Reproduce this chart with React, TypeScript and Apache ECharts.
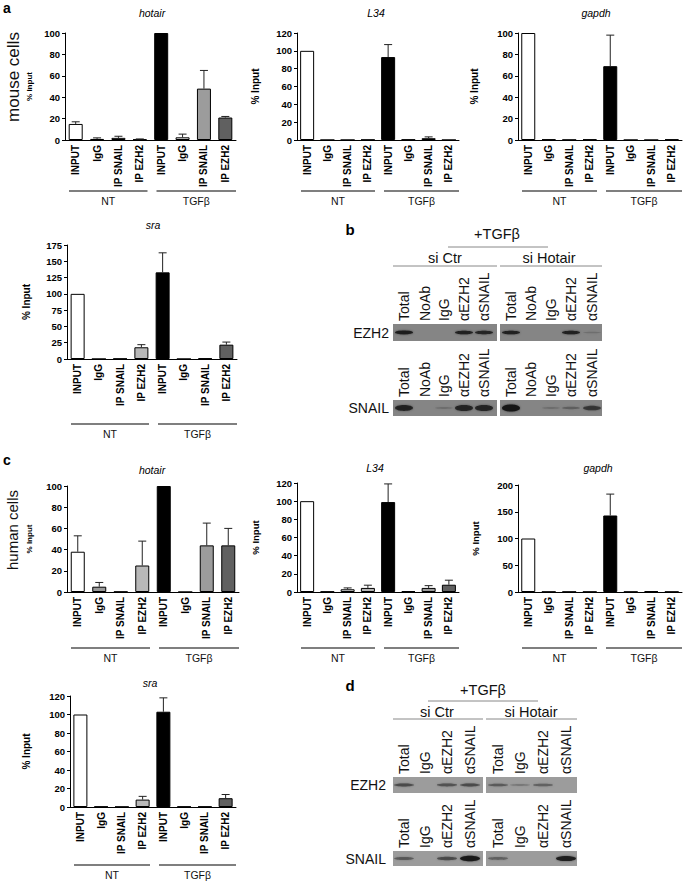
import React, { useEffect, useRef } from 'react';
import * as echarts from 'echarts';

const FONT = '"Liberation Sans", Arial, Helvetica, sans-serif';

const CATEGORIES = ['INPUT', 'IgG', 'IP SNAIL', 'IP EZH2', 'INPUT', 'IgG', 'IP SNAIL', 'IP EZH2'];
const GROUPS = ['NT', 'TGFβ'];
const FILLS = ['#ffffff', '#9a9a9a', '#e4e4e4', '#b8b8b8', '#000000', '#f2f2f2', '#9c9c9c', '#606060'];

// mouse cells (panel a)
const mouseHotair = [15, 1, 2, 0.5, 100, 2.5, 48, 21];
const mouseHotairErr = [2, 1, 1.5, 0.5, 0, 3, 17, 1];
const mouseL34 = [100, 0, 0, 0.3, 93, 0.5, 2, 0];
const mouseL34Err = [0, 0, 0, 0, 14, 0, 1.5, 0];
const mouseGapdh = [100, 0.5, 0.2, 0.5, 69, 0, 0, 0.5];
const mouseGapdhErr = [0, 0, 0, 0, 29, 0, 0, 0];
const mouseSra = [100, 0, 0.5, 18, 133, 0, 1, 22];
const mouseSraErr = [0, 0, 0, 4, 30, 0, 0, 4];

// human cells (panel c)
const humanHotair = [38, 5, 0.3, 25, 100, 0, 44, 44];
const humanHotairErr = [15, 4, 0, 23, 0, 0, 21, 16];
const humanL34 = [100, 0.5, 3, 4.5, 99, 1, 4.5, 8];
const humanL34Err = [0, 0, 1.5, 3, 20, 0, 2.5, 5];
const humanGapdh = [100, 0.5, 0.5, 0.5, 143, 0.5, 1.5, 0.5];
const humanGapdhErr = [0, 0, 0, 0, 40, 0, 0, 0];
const humanSra = [100, 0.5, 0.3, 8, 103, 0.5, 0.5, 9.5];
const humanSraErr = [0, 0, 0, 3.5, 15, 0, 0, 4];

// western blots (band intensity per lane, 0..1)
const blotBLanes = ['Total', 'NoAb', 'IgG', 'αEZH2', 'αSNAIL'];
const blotB_EZH2_siCtr = [0.9, 0, 0, 0.85, 0.8];
const blotB_EZH2_siHotair = [0.85, 0, 0, 0.85, 0.05];
const blotB_SNAIL_siCtr = [0.75, 0, 0.05, 0.8, 0.8];
const blotB_SNAIL_siHotair = [1, 0, 0.05, 0.15, 0.55];

const blotDLanes = ['Total', 'IgG', 'αEZH2', 'αSNAIL'];
const blotD_EZH2_siCtr = [0.45, 0, 0.4, 0.45];
const blotD_EZH2_siHotair = [0.35, 0.1, 0.3, 0];
const blotD_SNAIL_siCtr = [0.35, 0, 0.45, 0.95];
const blotD_SNAIL_siHotair = [0.3, 0, 0, 0.9];

const PANELS = [
  { title: 'hotair', values: mouseHotair, errors: mouseHotairErr, max: 100, interval: 20, left: 65, top: 33, width: 171, height: 107, nameGap: 32, nameSize: 8, titleX: 152, titleY: 13, lineY: 191 },
  { title: 'L34', values: mouseL34, errors: mouseL34Err, max: 120, interval: 20, left: 297, top: 33, width: 162, height: 107, nameGap: 37, nameSize: 10, titleX: 376, titleY: 13, lineY: 191 },
  { title: 'gapdh', values: mouseGapdh, errors: mouseGapdhErr, max: 100, interval: 20, left: 518, top: 33, width: 164, height: 107, nameGap: 39, nameSize: 10, titleX: 596, titleY: 13, lineY: 191 },
  { title: 'sra', values: mouseSra, errors: mouseSraErr, max: 175, interval: 25, left: 67, top: 245, width: 170, height: 114, nameGap: 36, nameSize: 10, titleX: 153, titleY: 225, lineY: 424 },
  { title: 'hotair', values: humanHotair, errors: humanHotairErr, max: 100, interval: 20, left: 67, top: 486, width: 172, height: 106, nameGap: 34, nameSize: 8, titleX: 152, titleY: 470, lineY: 648 },
  { title: 'L34', values: humanL34, errors: humanL34Err, max: 120, interval: 20, left: 297, top: 483, width: 162, height: 109, nameGap: 37, nameSize: 9.5, titleX: 375, titleY: 468, lineY: 648 },
  { title: 'gapdh', values: humanGapdh, errors: humanGapdhErr, max: 200, interval: 50, left: 518, top: 485, width: 164, height: 107, nameGap: 38, nameSize: 9.5, titleX: 598, titleY: 468, lineY: 648 },
  { title: 'sra', values: humanSra, errors: humanSraErr, max: 120, interval: 20, left: 70, top: 696, width: 166, height: 111, nameGap: 39, nameSize: 10, titleX: 150, titleY: 683, lineY: 865 },
];

function text(x: number, y: number, t: string, o: any = {}) {
  return {
    type: 'text', x, y, rotation: o.rotation || 0, z: 10,
    style: {
      text: t, fill: o.fill || '#111', font: o.font || `12px ${FONT}`,
      align: o.align || 'center', verticalAlign: o.verticalAlign || 'middle',
    },
  };
}
function line(x1: number, y1: number, x2: number, y2: number, stroke = '#555', lineWidth = 1.4) {
  return { type: 'line', z: 10, shape: { x1, y1, x2, y2 }, style: { stroke, lineWidth } };
}

function blotStrip(x0: number, x1: number, y: number, h: number, laneCenters: number[], intens: number[], bg: string, bandW: number, thick: number) {
  const els: any[] = [{ type: 'rect', z: 5, shape: { x: x0, y, width: x1 - x0, height: h }, style: { fill: bg } }];
  intens.forEach((v, i) => {
    if (v <= 0) return;
    els.push({
      type: 'ellipse', z: 6,
      shape: { cx: laneCenters[i], cy: y + h / 2, rx: bandW / 2, ry: 0.8 + v * thick },
      style: { fill: '#151515', opacity: Math.min(1, 0.1 + v * 0.9), shadowBlur: 2, shadowColor: 'rgba(0,0,0,0.5)' },
    });
  });
  return els;
}

function buildBlot(cfg: any) {
  const els: any[] = [];
  const laneFont = `14px ${FONT}`;
  els.push(text(cfg.letterX, cfg.letterY, cfg.letter, { font: `bold 15px ${FONT}`, fill: '#000' }));
  els.push(text(cfg.tgfX, cfg.tgfY, '+TGFβ', { font: `14.5px ${FONT}` }));
  els.push(line(cfg.tgfLine[0], cfg.tgfLine[2], cfg.tgfLine[1], cfg.tgfLine[2], '#888', 1));
  els.push(text(cfg.ctrX, cfg.subY, 'si Ctr', { font: `14.5px ${FONT}` }));
  els.push(text(cfg.hotX, cfg.subY, 'si Hotair', { font: `14.5px ${FONT}` }));
  els.push(line(cfg.L[0], cfg.subLineY, cfg.L[1], cfg.subLineY, '#888', 1));
  els.push(line(cfg.R[0], cfg.subLineY, cfg.R[1], cfg.subLineY, '#888', 1));
  const rows = [
    { name: 'EZH2', y: cfg.ezhY, h: cfg.ezhH, lab: cfg.ezhLabY, L: cfg.ezhL, R: cfg.ezhR, thick: cfg.ezhThick },
    { name: 'SNAIL', y: cfg.snY, h: cfg.snH, lab: cfg.snLabY, L: cfg.snL, R: cfg.snR, thick: cfg.snThick },
  ];
  rows.forEach((r) => {
    els.push(text(cfg.rowLabX, r.y + r.h / 2, r.name, { font: `14px ${FONT}`, align: 'right' }));
    cfg.lanes.forEach((ln: string, i: number) => {
      els.push(text(cfg.lcL[i], r.lab, ln, { font: laneFont, align: 'left', rotation: Math.PI / 2 }));
      els.push(text(cfg.lcR[i], r.lab, ln, { font: laneFont, align: 'left', rotation: Math.PI / 2 }));
    });
    els.push(...blotStrip(cfg.L[0], cfg.L[1], r.y, r.h, cfg.lcL, r.L, cfg.bg, cfg.bandW, r.thick));
    els.push(...blotStrip(cfg.R[0], cfg.R[1], r.y, r.h, cfg.lcR, r.R, cfg.bg, cfg.bandW, r.thick));
  });
  return els;
}

export default function App() {
  const ref = useRef<HTMLDivElement>(null);
  useEffect(() => {
    if (!ref.current) return;
    const chart = echarts.init(ref.current, undefined, { renderer: 'svg' });

    const grid: any[] = [];
    const xAxis: any[] = [];
    const yAxis: any[] = [];
    const series: any[] = [];
    const graphic: any[] = [];

    PANELS.forEach((p, i) => {
      grid.push({ left: p.left, top: p.top, width: p.width, height: p.height, containLabel: false });
      xAxis.push({
        type: 'category', gridIndex: i, data: CATEGORIES,
        axisLine: { show: true, lineStyle: { color: '#000', width: 1 } },
        axisTick: { show: false },
        axisLabel: { rotate: 90, interval: 0, fontWeight: 'bold', fontSize: 10, color: '#000', margin: 5, fontFamily: FONT },
      });
      yAxis.push({
        type: 'value', gridIndex: i, min: 0, max: p.max, interval: p.interval,
        name: '% Input', nameLocation: 'middle', nameRotate: 90, nameGap: p.nameGap,
        nameTextStyle: { fontWeight: 'bold', fontSize: p.nameSize, color: '#000', fontFamily: FONT },
        axisLine: { show: true, lineStyle: { color: '#000', width: 1 } },
        axisTick: { show: true, length: 3, lineStyle: { color: '#000' } },
        splitLine: { show: false },
        axisLabel: { fontWeight: 'bold', fontSize: 9.5, color: '#000', margin: 5, fontFamily: FONT },
      });
      series.push({
        type: 'bar', xAxisIndex: i, yAxisIndex: i, barWidth: 14,
        data: p.values.map((v, k) => ({ value: v, itemStyle: { color: FILLS[k], borderColor: '#000', borderWidth: 1 } })),
      });
      series.push({
        type: 'custom', xAxisIndex: i, yAxisIndex: i, z: 5,
        data: p.values.map((v, k) => [k, v, p.errors[k]]).filter((d) => d[2] > 0),
        encode: { x: 0, y: 1 },
        renderItem: (params: any, api: any) => {
          const base = api.coord([api.value(0), api.value(1)]);
          const top = api.coord([api.value(0), api.value(1) + api.value(2)]);
          const st = { stroke: '#222', lineWidth: 1 };
          return {
            type: 'group',
            children: [
              { type: 'line', shape: { x1: base[0], y1: base[1], x2: top[0], y2: top[1] }, style: st },
              { type: 'line', shape: { x1: top[0] - 4, y1: top[1], x2: top[0] + 4, y2: top[1] }, style: st },
            ],
          };
        },
      });
      graphic.push(text(p.titleX, p.titleY, p.title, { font: `italic 10.5px ${FONT}`, fill: '#000' }));
      const mid = p.left + p.width / 2;
      const right = p.left + p.width;
      graphic.push(line(p.left + 4, p.lineY, mid - 3, p.lineY));
      graphic.push(line(mid + 6, p.lineY, right, p.lineY));
      graphic.push(text((p.left + 4 + mid - 3) / 2, p.lineY + 10, GROUPS[0], { font: `10.5px ${FONT}` }));
      graphic.push(text((mid + 6 + right) / 2, p.lineY + 10, GROUPS[1], { font: `10.5px ${FONT}` }));
    });

    // side labels and panel letters
    graphic.push(text(3, 8, 'a', { font: `bold 14px ${FONT}`, fill: '#000', align: 'left' }));
    graphic.push(text(3, 460, 'c', { font: `bold 14px ${FONT}`, fill: '#000', align: 'left' }));
    graphic.push(text(13, 77, 'mouse cells', { font: `17px ${FONT}`, rotation: Math.PI / 2 }));
    graphic.push(text(12, 530, 'human cells', { font: `15px ${FONT}`, rotation: Math.PI / 2 }));

    graphic.push(...buildBlot({
      letter: 'b', letterX: 350, letterY: 229, tgfX: 497, tgfY: 234, tgfLine: [448, 548, 247],
      ctrX: 445, hotX: 549, subY: 258, subLineY: 266, L: [393, 497], R: [500, 602],
      lanes: blotBLanes, lcL: [404, 425, 444, 464, 484], lcR: [511, 531, 551, 571, 592],
      rowLabX: 389, ezhY: 324, ezhH: 17, ezhLabY: 321, snY: 400, snH: 16, snLabY: 397,
      ezhL: blotB_EZH2_siCtr, ezhR: blotB_EZH2_siHotair, snL: blotB_SNAIL_siCtr, snR: blotB_SNAIL_siHotair,
      ezhThick: 1.2, snThick: 2.8,
      bg: '#858585', bandW: 18,
    }));
    graphic.push(...buildBlot({
      letter: 'd', letterX: 350, letterY: 685, tgfX: 483, tgfY: 690, tgfLine: [428, 538, 701],
      ctrX: 437, hotX: 531, subY: 712, subLineY: 719, L: [393, 483], R: [486, 577],
      lanes: blotDLanes, lcL: [404, 425, 447, 470], lcR: [498, 520, 543, 566],
      rowLabX: 386, ezhY: 777, ezhH: 16, ezhLabY: 774, snY: 851, snH: 15, snLabY: 848,
      ezhL: blotD_EZH2_siCtr, ezhR: blotD_EZH2_siHotair, snL: blotD_SNAIL_siCtr, snR: blotD_SNAIL_siHotair,
      ezhThick: 1.5, snThick: 2,
      bg: '#9c9c9c', bandW: 20,
    }));

    chart.setOption({
      animation: false,
      backgroundColor: '#ffffff',
      textStyle: { fontFamily: FONT },
      grid, xAxis, yAxis, series, graphic,
    });
    return () => chart.dispose();
  }, []);
  return <div ref={ref} style={{ position: 'fixed', left: 0, top: 0, width: 685, height: 881, background: '#fff' }} />;
}
